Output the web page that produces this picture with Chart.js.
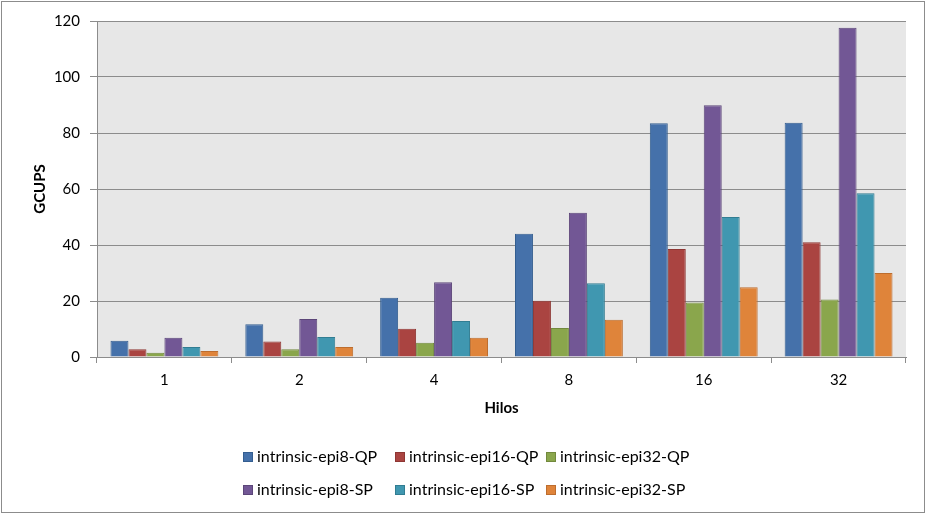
<!DOCTYPE html>
<html>
<head>
<meta charset="utf-8">
<script src="https://cdn.jsdelivr.net/npm/chart.js@4/dist/chart.umd.min.js"></script>
<style>
  html, body { margin: 0; padding: 0; background: #fff; }
  #wrap { width: 927px; height: 515px; position: relative; }
</style>
</head>
<body>
<div id="wrap"><canvas id="c" width="927" height="515"></canvas></div>
<script>
// Thread counts on the x axis
const hilos = ['1', '2', '4', '8', '16', '32'];

// GCUPS per variant
const epi8QP  = [5.8, 11.7, 21.2, 44.0, 83.5, 83.7];
const epi16QP = [2.8, 5.5, 10.1, 20.1, 38.6, 41.0];
const epi32QP = [1.5, 2.8, 5.1, 10.4, 19.5, 20.5];
const epi8SP  = [6.9, 13.6, 26.7, 51.5, 89.9, 117.6];
const epi16SP = [3.6, 7.1, 12.9, 26.3, 50.0, 58.5];
const epi32SP = [2.1, 3.6, 6.9, 13.3, 24.9, 30.0];

const seriesNames = [
  'intrinsic-epi8-QP', 'intrinsic-epi16-QP', 'intrinsic-epi32-QP',
  'intrinsic-epi8-SP', 'intrinsic-epi16-SP', 'intrinsic-epi32-SP'
];

const fills   = ['#4571AA', '#AA4441', '#8AA64C', '#725795', '#4097B0', '#DF843A'];
const borders = ['#345E90', '#8E3633', '#72893D', '#5C4679', '#317D92', '#BD6D2E'];

const seriesData = [epi8QP, epi16QP, epi32QP, epi8SP, epi16SP, epi32SP];

const FONT = 'Lato, "Open Sans", "DejaVu Sans", sans-serif';

// Grey plot background and outer frame
const frame = {
  id: 'frame',
  beforeDraw(chart) {
    const { ctx, chartArea: a } = chart;
    ctx.save();
    ctx.fillStyle = '#E7E7E7';
    ctx.fillRect(a.left, a.top, a.right - a.left, a.bottom - a.top);
    ctx.restore();
  },
  afterDraw(chart) {
    const ctx = chart.ctx;
    ctx.save();
    ctx.strokeStyle = '#8C8C8C';
    ctx.lineWidth = 1;
    ctx.strokeRect(1.5, 1.5, 923, 511);
    ctx.restore();
  }
};

// Two-row legend, three entries per row
const gridLegend = {
  id: 'gridLegend',
  afterDraw(chart) {
    const ctx = chart.ctx;
    const ds = chart.data.datasets;
    const colX = [243, 395, 546];
    const rowY = [457, 490];
    ctx.save();
    ctx.font = '16px ' + FONT;
    ctx.textBaseline = 'middle';
    ds.forEach((d, i) => {
      const x = colX[i % 3];
      const y = rowY[Math.floor(i / 3)];
      ctx.fillStyle = d.backgroundColor;
      ctx.fillRect(x, y - 5, 10, 10);
      ctx.strokeStyle = d.borderColor;
      ctx.lineWidth = 1;
      ctx.strokeRect(x + 0.5, y - 4.5, 9, 9);
      ctx.fillStyle = '#000';
      ctx.fillText(d.label, x + 14, y);
    });
    ctx.restore();
  }
};

new Chart(document.getElementById('c'), {
  type: 'bar',
  data: {
    labels: hilos,
    datasets: seriesData.map((vals, i) => ({
      label: seriesNames[i],
      data: vals,
      backgroundColor: fills[i],
      borderColor: borders[i],
      borderWidth: 1,
      barPercentage: 1.0,
      categoryPercentage: 0.8
    }))
  },
  options: {
    responsive: false,
    animation: false,
    layout: { padding: { left: 0, top: 21, right: 21, bottom: 85 } },
    plugins: {
      legend: { display: false },
      tooltip: { enabled: false }
    },
    scales: {
      x: {
        offset: true,
        afterFit(scale) { scale.height = 73; },
        grid: {
          offset: true,
          drawOnChartArea: false,
          color: '#8C8C8C',
          tickLength: 6
        },
        border: { color: '#8C8C8C' },
        ticks: {
          color: '#000',
          padding: 8,
          font: { family: FONT, size: 15 }
        },
        title: {
          display: true,
          text: 'Hilos',
          color: '#000',
          font: { family: FONT, size: 15, weight: 'bold' },
          padding: { top: 0, bottom: 13 }
        }
      },
      y: {
        min: 0,
        max: 120,
        afterFit(scale) { scale.width = 97; },
        grid: {
          color: '#8C8C8C',
          tickLength: 7
        },
        border: { color: '#8C8C8C' },
        ticks: {
          stepSize: 20,
          color: '#000',
          padding: 10,
          font: { family: FONT, size: 15 }
        },
        title: {
          display: true,
          text: 'GCUPS',
          color: '#000',
          font: { family: FONT, size: 15, weight: 'bold' },
          padding: { top: 31, bottom: 0 }
        }
      }
    }
  },
  plugins: [frame, gridLegend]
});
</script>
</body>
</html>
